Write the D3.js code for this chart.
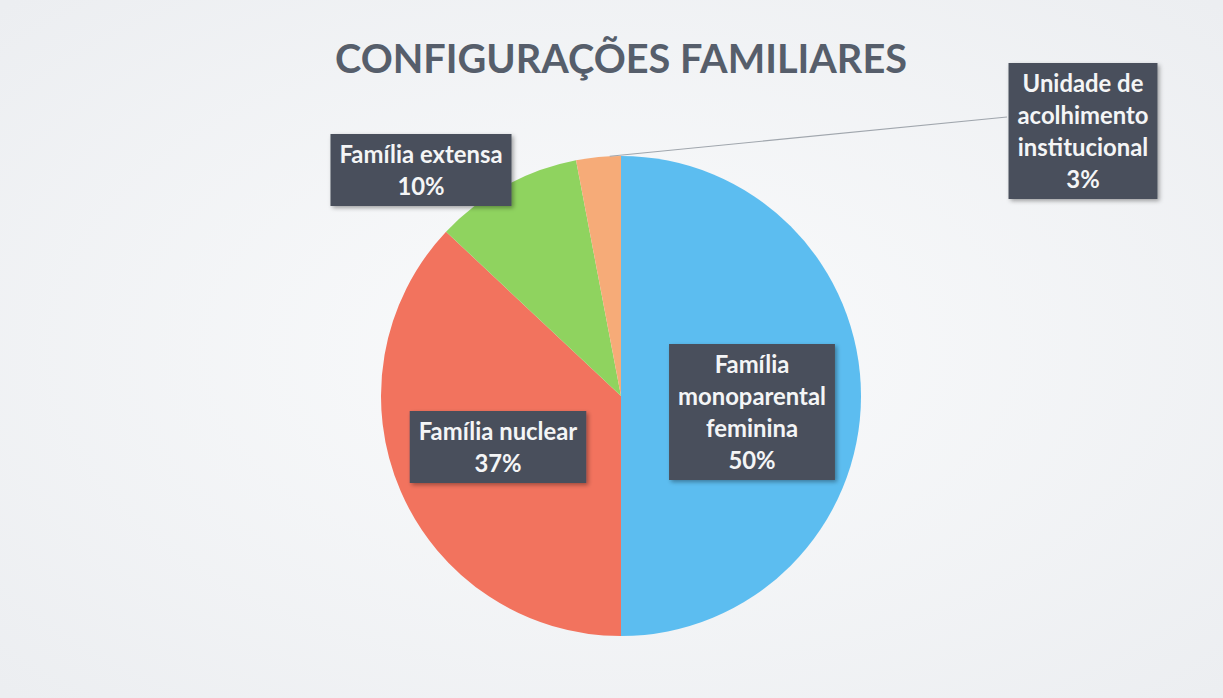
<!DOCTYPE html>
<html>
<head>
<meta charset="utf-8">
<script src="https://cdn.jsdelivr.net/npm/d3@7"></script>
<style>
  body { margin: 0; background: #f3f4f6; }
  svg { display: block; }
</style>
</head>
<body>
<svg id="chart" width="1223" height="698"></svg>
<script>
// -- data -- //
let categories = ["Família monoparental feminina", "Família nuclear", "Família extensa", "Unidade de acolhimento institucional"];
let values = [50, 37, 10, 3];
let labelLines = [
    ["Família", "monoparental", "feminina"],
    ["Família nuclear"],
    ["Família extensa"],
    ["Unidade de", "acolhimento", "institucional"]
];
let colors = ["#5cbdf0", "#f2735e", "#8fd35f", "#f6ab78"];
let title = "CONFIGURAÇÕES FAMILIARES";

let width = 1223, height = 698;
let cx = 621, cy = 396, radius = 240;

let svg = d3.select("#chart");

// -- background -- //
let defs = svg.append("defs");
let bg = defs.append("radialGradient").attr("id", "bg").attr("cx", "50%").attr("cy", "50%").attr("r", "70%");
bg.append("stop").attr("offset", "0%").attr("stop-color", "#fafbfc");
bg.append("stop").attr("offset", "100%").attr("stop-color", "#eceef1");
svg.append("rect").attr("width", width).attr("height", height).attr("fill", "url(#bg)");

let shadow = defs.append("filter").attr("id", "shadow").attr("x", "-10%").attr("y", "-10%").attr("width", "130%").attr("height", "130%");
shadow.append("feDropShadow").attr("dx", 2).attr("dy", 2).attr("stdDeviation", 2).attr("flood-color", "#000").attr("flood-opacity", 0.35);

let fontFamily = "Lato, 'Open Sans', sans-serif";

// -- title -- //
let titleText = svg.append("text")
    .attr("x", cx)
    .attr("y", 73)
    .attr("text-anchor", "middle")
    .style("font-family", fontFamily)
    .style("font-weight", "700")
    .style("font-size", "38px")
    .style("fill", "#565e6b")
    .text(title);
// fit to the reference width
let tw = titleText.node().getComputedTextLength();
titleText.style("font-size", (38 * 572 / tw) + "px");

// -- pie -- //
let data = categories.map((c, i) => ({ name: c, value: values[i], lines: labelLines[i], color: colors[i] }));
let pie = d3.pie().value(d => d.value).sort(null);
let arc = d3.arc().innerRadius(0).outerRadius(radius);
let arcs = pie(data);

let pieLayer = svg.append("g").attr("transform", `translate(${cx}, ${cy})`);
pieLayer.selectAll(".slice")
    .data(arcs)
    .enter()
    .append("path")
    .attr("class", "slice")
    .attr("d", arc)
    .style("fill", d => d.data.color);

// -- data labels -- //
// box centres relative to pie centre (chart layout, not data)
let labelOffsets = [[131, 16], [-123, 51], [-200, -226], [462, -265]];
let lineHeight = 32;

// font size so that "monoparental" is about 148px wide, like the reference
let probe = svg.append("text").style("font-family", fontFamily).style("font-weight", "700")
    .style("font-size", "20px").text("monoparental");
let fontSize = 20 * 148 / probe.node().getComputedTextLength();
probe.remove();

let labelLayer = svg.append("g");

// leader line for the small slice
let small = arcs[3];
let lineAngle = small.startAngle + (small.endAngle - small.startAngle) * 0.75;
let startPt = [cx + Math.sin(lineAngle) * radius, cy - Math.cos(lineAngle) * radius];
labelLayer.append("line")
    .attr("x1", startPt[0]).attr("y1", startPt[1])
    .attr("x2", cx + labelOffsets[3][0] - 76).attr("y2", cy + labelOffsets[3][1] - 14)
    .style("stroke", "#a0a6ad")
    .style("stroke-width", 1.2);

arcs.forEach((a, i) => {
    let lines = a.data.lines.concat([a.data.value + "%"]);
    let g = labelLayer.append("g")
        .attr("transform", `translate(${cx + labelOffsets[i][0]}, ${cy + labelOffsets[i][1]})`);
    let box = g.append("rect").style("fill", "#4a505c").attr("filter", "url(#shadow)");
    let texts = g.selectAll("text")
        .data(lines)
        .enter()
        .append("text")
        .attr("x", 0)
        .attr("y", (d, j) => (j - (lines.length - 1) / 2) * lineHeight + fontSize * 0.36)
        .attr("text-anchor", "middle")
        .style("font-family", fontFamily)
        .style("font-weight", "700")
        .style("font-size", fontSize + "px")
        .style("fill", "#f4f5f6")
        .text(d => d);
    let maxW = d3.max(texts.nodes(), n => n.getComputedTextLength());
    let bw = maxW + 18, bh = lines.length * lineHeight + 8;
    box.attr("x", -bw / 2).attr("y", -bh / 2).attr("width", bw).attr("height", bh);
});
</script>
</body>
</html>
